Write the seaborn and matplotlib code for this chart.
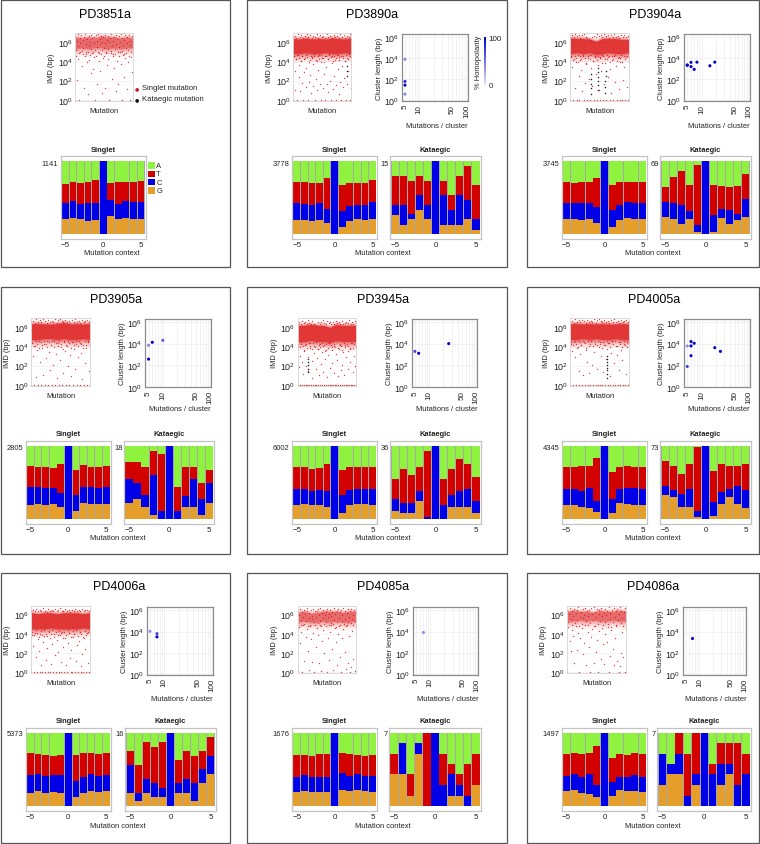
# Kataegis overview: rainfall, cluster size and mutation context for nine samples
import numpy as np
import matplotlib
matplotlib.use("Agg")
import matplotlib.pyplot as plt
import seaborn as sns
from matplotlib.colors import LinearSegmentedColormap, Normalize
from matplotlib.cm import ScalarMappable
from matplotlib.ticker import NullFormatter, NullLocator

# Step 1: data
samples = ["PD3851a", "PD3890a", "PD3904a", "PD3905a", "PD3945a", "PD4005a", "PD4006a", "PD4085a", "PD4086a"]
context = [-5, -4, -3, -2, -1, 0, 1, 2, 3, 4, 5]

singlet_counts = [1141, 3778, 3745, 2805, 6002, 4345, 5373, 1676, 1497]
kataegic_counts = [None, 15, 69, 18, 36, 73, 16, 7, 7]

# stacked bar tops in %: G, G+C, G+C+T (A fills up to 100)
s3851_g = [20, 22, 20, 18, 19, 0, 25, 20, 22, 20, 20]
s3851_c = [42, 46, 41, 42, 43, 100, 47, 41, 46, 44, 44]
s3851_t = [69, 72, 70, 72, 74, 100, 70, 72, 72, 72, 73]

s3890_g = [19, 19, 18, 19, 15, 0, 9, 18, 21, 19, 20]
s3890_c = [43, 41, 40, 43, 34, 100, 32, 38, 40, 40, 44]
s3890_t = [71, 72, 70, 70, 77, 100, 67, 70, 70, 70, 74]
k3890_g = [26, 13, 20, 33, 20, 0, 13, 13, 13, 20, 6]
k3890_c = [40, 40, 27, 54, 40, 100, 53, 33, 53, 47, 20]
k3890_t = [80, 80, 73, 80, 73, 100, 73, 53, 80, 94, 67]

s3904_g = [20, 20, 19, 21, 15, 0, 9, 19, 22, 21, 20]
s3904_c = [42, 43, 42, 43, 37, 100, 33, 40, 44, 43, 42]
s3904_t = [71, 70, 71, 71, 77, 100, 67, 71, 72, 72, 72]
k3904_g = [23, 21, 14, 20, 3, 0, 3, 22, 14, 19, 23]
k3904_c = [44, 43, 40, 32, 12, 100, 26, 35, 33, 28, 48]
k3904_t = [64, 78, 86, 67, 95, 100, 67, 66, 64, 66, 83]

s3905_g = [19, 20, 19, 20, 16, 0, 11, 22, 21, 20, 21]
s3905_c = [44, 44, 43, 43, 36, 100, 33, 44, 44, 42, 44]
s3905_t = [73, 72, 71, 70, 76, 100, 67, 74, 72, 72, 73]
k3905_g = [22, 28, 17, 6, 0, 0, 0, 17, 17, 6, 22]
k3905_c = [55, 50, 33, 61, 11, 100, 11, 31, 55, 28, 50]
k3905_t = [78, 78, 72, 94, 89, 100, 44, 72, 72, 50, 67]

s3945_g = [19, 21, 19, 19, 17, 0, 8, 19, 21, 20, 19]
s3945_c = [41, 41, 39, 40, 39, 100, 33, 40, 41, 41, 41]
s3945_t = [72, 71, 69, 70, 75, 100, 67, 71, 72, 72, 71]
k3945_g = [11, 8, 8, 25, 0, 0, 0, 17, 17, 17, 8]
k3945_c = [28, 22, 22, 38, 3, 100, 19, 33, 39, 41, 25]
k3945_t = [55, 69, 61, 72, 94, 100, 55, 69, 83, 75, 58]

s4005_g = [19, 19, 17, 15, 10, 0, 8, 22, 20, 19, 19]
s4005_c = [41, 41, 38, 43, 25, 100, 28, 41, 42, 42, 41]
s4005_t = [72, 72, 73, 73, 84, 100, 65, 72, 73, 72, 72]
k4005_g = [33, 30, 17, 16, 3, 0, 4, 20, 30, 20, 15]
k4005_c = [45, 40, 35, 41, 11, 100, 23, 37, 41, 45, 40]
k4005_t = [80, 73, 62, 76, 99, 100, 66, 76, 73, 73, 76]

s4006_g = [18, 20, 18, 19, 18, 0, 12, 18, 20, 19, 20]
s4006_c = [42, 43, 41, 42, 42, 100, 34, 39, 43, 41, 42]
s4006_t = [73, 71, 70, 69, 70, 100, 70, 72, 73, 71, 73]
k4006_g = [18, 6, 18, 12, 12, 0, 18, 18, 6, 31, 44]
k4006_c = [56, 18, 37, 31, 25, 100, 31, 37, 31, 50, 69]
k4006_t = [75, 56, 88, 81, 88, 100, 63, 75, 69, 75, 94]

s4085_g = [19, 20, 19, 19, 19, 0, 22, 20, 21, 20, 19]
s4085_c = [40, 42, 40, 39, 39, 100, 45, 41, 43, 41, 41]
s4085_t = [70, 70, 69, 71, 71, 100, 72, 71, 70, 69, 70]
k4085_g = [43, 43, 14, 71, 0, 0, 0, 14, 14, 0, 29]
k4085_c = [43, 86, 14, 86, 0, 100, 29, 43, 29, 14, 29]
k4085_t = [71, 86, 43, 86, 100, 100, 71, 57, 43, 57, 71]

s4086_g = [20, 21, 17, 16, 12, 0, 14, 21, 20, 20, 19]
s4086_c = [41, 43, 40, 43, 29, 100, 33, 40, 40, 42, 40]
s4086_t = [71, 72, 71, 73, 82, 100, 66, 71, 70, 72, 71]
k4086_g = [29, 43, 43, 0, 29, 0, 0, 29, 43, 0, 0]
k4086_c = [71, 57, 71, 14, 43, 100, 43, 57, 57, 29, 43]
k4086_t = [71, 57, 100, 71, 100, 100, 57, 86, 86, 86, 71]

# clusters: mutations per cluster, log10 length, % homopolarity
c3890_n = [5, 5, 5, 5]
c3890_len = [3.9, 1.8, 1.45, 0.6]
c3890_hom = [40, 80, 100, 40]
c3904_n = [5, 5, 6, 6, 7, 8, 15, 19]
c3904_len = [3.34, 3.34, 3.6, 3.2, 2.94, 3.62, 3.28, 3.62]
c3904_hom = [100, 100, 100, 100, 100, 100, 100, 100]
c3905_n = [5, 5, 6, 10]
c3905_len = [3.84, 2.56, 4.12, 4.3]
c3905_hom = [40, 100, 100, 60]
c3945_n = [5, 6, 26]
c3945_len = [3.28, 3.1, 4.0]
c3945_hom = [70, 100, 100]
c4005_n = [5, 5, 6, 6, 6, 7, 19, 25]
c4005_len = [3.78, 1.88, 4.19, 3.78, 2.88, 4.03, 3.62, 3.28]
c4005_hom = [35, 70, 100, 100, 100, 100, 100, 100]
c4006_n = [5, 7, 7]
c4006_len = [4.03, 3.8, 3.5]
c4006_hom = [35, 70, 100]
c4085_n = [7]
c4085_len = [3.94]
c4085_hom = [35]
c4086_n = [7]
c4086_len = [3.4]
c4086_hom = [100]

# rainfall: envelope of the dense band at ten places along the genome (log10 IMD)
b3851_hi = [6.5, 6.4, 6.5, 6.4, 6.6, 6.5, 6.5, 6.4, 6.5, 6.4]
b3851_lo = [5.3, 5.4, 5.3, 5.4, 5.4, 5.3, 5.4, 5.3, 5.4, 5.4]
b3890_hi = [6.35, 6.3, 6.4, 6.3, 6.35, 6.3, 6.4, 6.35, 6.3, 6.4]
b3890_lo = [4.8, 4.8, 4.9, 4.8, 4.8, 4.9, 4.8, 4.8, 4.9, 4.8]
b3904_hi = [6.4, 6.35, 6.35, 6.25, 6.05, 6.35, 6.35, 6.35, 6.25, 6.25]
b3904_lo = [4.8, 4.9, 4.8, 4.9, 4.7, 4.8, 4.9, 4.8, 4.8, 4.9]
b3905_hi = [6.3, 6.35, 6.3, 6.3, 6.35, 6.45, 6.3, 6.35, 6.3, 6.35]
b3905_lo = [4.7, 4.7, 4.8, 4.8, 4.7, 4.8, 4.7, 4.7, 4.8, 4.7]
b3945_hi = [6.15, 6.15, 6.25, 6.15, 6.15, 5.95, 6.25, 6.15, 6.15, 6.15]
b3945_lo = [4.5, 4.5, 4.6, 4.5, 4.5, 4.4, 4.6, 4.5, 4.5, 4.5]
b4005_hi = [6.3, 6.35, 6.3, 6.35, 6.3, 6.35, 6.3, 6.3, 6.35, 6.3]
b4005_lo = [4.7, 4.7, 4.8, 4.7, 4.8, 4.7, 4.7, 4.8, 4.7, 4.7]
b4006_hi = [6.15, 6.05, 6.15, 6.15, 6.05, 6.15, 6.15, 6.15, 6.05, 6.15]
b4006_lo = [4.5, 4.5, 4.5, 4.6, 4.5, 4.5, 4.5, 4.5, 4.6, 4.5]
b4085_hi = [6.2, 6.3, 6.1, 6.2, 6.3, 6.3, 6.3, 6.2, 6.3, 6.3]
b4085_lo = [5.2, 5.3, 5.2, 5.2, 5.3, 5.2, 5.3, 5.2, 5.2, 5.3]
b4086_hi = [6.3, 6.4, 6.3, 6.3, 6.2, 6.4, 6.3, 6.3, 6.4, 6.3]
b4086_lo = [5.3, 5.3, 5.4, 5.3, 5.4, 5.3, 5.3, 5.4, 5.3, 5.3]

# rainfall: loose points below the band, in genome order (log10 IMD)
r3851 = [0.0, 4.6, 2.1, 4.2, 0.0, 5.0, 3.5, 4.8, 1.2, 4.5, 5.0, 3.9, 0.6, 4.1, 4.7, 2.8,
         4.9, 3.2, 4.4, 0.0, 4.6, 1.7, 5.0, 4.0, 3.0, 4.8, 0.7, 4.3, 4.6, 1.2, 5.0, 3.6,
         4.2, 0.0, 4.9, 2.2, 4.5, 3.3, 4.8, 0.9, 4.0, 1.6, 4.6, 5.0, 3.7, 0.0, 4.7, 2.4, 4.3,
         4.9, 1.1, 3.9, 4.6, 0.0, 4.4, 2.9, 4.8]
r3890 = [0.0, 4.5, 1.0, 3.0, 4.2, 0.0, 4.7, 2.4, 3.6, 0.9, 4.0, 1.8, 4.6, 0.0, 2.9, 4.3, 1.3,
         3.3, 4.8, 0.0, 1.9, 4.1, 2.6, 0.7, 4.4, 3.7, 1.4, 4.6, 0.0, 2.2, 4.0, 1.0, 3.1,
         4.7, 1.7, 0.0, 3.9, 4.3, 1.2, 2.7, 4.6, 0.0, 3.4, 1.6, 4.2, 0.8, 4.8, 2.0, 0.0, 3.8,
         4.5, 1.1, 2.5, 4.1, 0.0, 1.5, 4.7, 3.2, 0.6, 4.4, 1.9, 0.0, 3.5, 4.6, 1.3, 2.3, 4.0,
         0.0, 4.3, 1.7, 3.0, 4.8, 0.0, 1.2, 3.7]
r3904 = [0.0, 4.6, 3.4, 0.0, 4.2, 1.2, 3.9, 0.0, 4.7, 2.5, 0.0, 4.1, 3.1, 0.9, 4.5, 0.0,
         1.8, 3.7, 0.0, 4.3, 2.2, 4.7, 0.0, 3.3, 1.4, 4.0, 0.0, 4.6, 2.7, 0.0, 3.6, 1.0,
         4.4, 0.0, 3.0, 4.7, 0.0, 1.6, 3.8, 0.0, 4.2, 2.4, 4.6, 0.0, 3.2, 0.7, 4.1, 0.0,
         4.5, 1.9, 3.5, 0.0, 4.3, 1.1, 0.0, 3.9, 4.7, 0.0, 2.1, 3.4, 0.0, 4.4, 1.3, 0.0, 4.0]
r3905 = [0.0, 4.3, 3.0, 0.0, 4.0, 0.8, 3.6, 0.0, 4.5, 2.4, 0.0, 3.8, 1.0, 4.2, 0.0, 2.8,
         4.6, 0.0, 3.4, 1.5, 4.1, 0.0, 2.1, 4.5, 0.0, 3.2, 0.7, 4.3, 0.0, 2.6, 3.9,
         0.0, 1.2, 4.6, 3.5, 0.0, 4.0, 2.0, 0.0, 3.1, 0.9, 4.4, 0.0, 3.7, 1.7, 4.2, 0.0,
         2.9, 4.5, 0.0, 3.3, 0.6, 4.1, 0.0, 2.3, 3.8, 0.0, 4.6, 1.4, 0.0]
r3945 = [0.0, 3.9, 1.9, 0.0, 3.0, 4.2, 0.0, 2.4, 1.1, 0.0, 3.5, 4.1, 0.0, 2.0, 0.0, 2.9, 1.4,
         0.0, 3.8, 4.3, 0.0, 2.5, 0.7, 0.0, 3.3, 4.0, 0.0, 1.6, 0.0, 2.8, 3.7, 0.0, 1.0, 4.2, 0.0,
         2.2, 3.4, 0.0, 1.3, 4.1, 0.0, 2.7, 0.0, 3.6, 0.8, 0.0, 3.1, 4.3, 0.0, 1.8, 0.0, 2.3,
         3.9, 0.0, 1.2, 4.0, 0.0, 3.2, 0.0, 2.6, 0.9, 0.0, 3.7, 4.2, 0.0, 1.5, 0.0, 2.1, 3.4, 0.0,
         1.0, 4.1, 0.0, 2.9, 0.0, 3.5, 1.7, 0.0, 2.4, 3.8, 0.0, 4.3, 0.0, 1.3, 3.0, 0.0, 2.0, 0.0]
r4005 = [0.0, 4.2, 3.5, 0.0, 4.4, 2.9, 0.0, 3.8, 4.5, 1.4, 0.0, 3.2, 4.1, 0.0, 1.0, 4.4,
         0.0, 3.6, 2.4, 0.0, 4.0, 1.2, 0.0, 4.5, 2.1, 0.0, 3.4, 4.2, 0.0, 1.6, 0.0, 3.9, 4.4,
         0.0, 3.0, 0.0, 1.3, 4.1, 0.0, 2.7, 3.7, 0.0, 4.3, 0.9, 0.0, 3.3, 4.5, 0.0, 2.3, 0.0,
         4.0, 3.1, 0.0, 1.5, 4.4, 0.0, 3.6, 2.6, 0.0, 4.2, 0.0, 1.1, 3.9, 0.0, 4.5]
r4006 = [0.0, 3.9, 2.7, 0.0, 4.1, 1.6, 0.0, 3.4, 2.2, 0.0, 4.0, 0.7, 0.0, 3.1, 3.8, 0.0,
         1.3, 2.5, 0.0, 4.2, 3.6, 0.0, 0.9, 2.9, 0.0, 4.0, 1.8, 0.0, 3.3, 2.1, 0.0, 3.9, 1.1,
         0.0, 4.2, 2.6, 0.0, 3.5, 0.8, 0.0, 3.0, 4.1, 1.5, 0.0, 2.3, 0.0, 3.7, 4.0, 0.0, 1.2,
         2.8, 0.0, 3.2, 4.2, 0.6, 0.0, 1.9, 0.0, 3.6, 2.4, 0.0, 4.1, 1.0, 0.0, 3.4]
r4085 = [0.1, 4.7, 3.0, 4.2, 0.0, 4.9, 1.2, 3.7, 4.5, 2.2, 0.2, 4.8, 3.4, 1.1, 4.1, 0.0,
         2.6, 4.6, 3.9, 1.0, 4.9, 0.1, 3.2, 4.4, 2.0, 4.8, 0.0, 3.6, 1.3, 4.2, 4.9, 2.4,
         0.2, 4.6, 3.1, 0.8, 4.0, 4.8, 1.6, 0.0, 3.5, 4.5, 2.1, 0.3, 4.9, 1.0, 3.8, 0.0,
         0.5, 4.3, 1.4, 0.1, 4.7]
r4086 = [0.0, 4.7, 3.2, 2.2, 4.4, 3.8, 1.0, 4.8, 2.3, 4.1, 0.0, 3.5, 4.6, 1.9, 3.0,
         4.9, 0.8, 4.2, 2.6, 0.0, 3.7, 4.5, 1.0, 4.8, 2.1, 3.3, 0.0, 4.3, 1.4, 4.6,
         2.9, 0.9, 4.0, 3.1, 4.7, 0.0, 1.7, 4.4, 2.4, 0.8, 3.6, 4.8, 1.2, 0.0, 0.6,
         2.0, 4.2, 1.6, 0.0, 4.6]

# rainfall: points along the fuzzy edges and inside the band (log10 IMD)
e3851 = [6.6, 5.2, 6.1, 6.8, 5.6, 4.9, 6.4, 5.9, 6.7, 5.1, 6.2, 5.4, 6.5, 6.85, 4.8, 5.8, 6.3, 5.0, 6.6, 5.7,
         6.0, 6.75, 5.3, 6.45, 4.95, 5.9, 6.55, 5.2, 6.7, 6.1, 5.5, 6.8, 4.85, 6.3, 5.75, 6.6, 5.15, 6.0, 6.5, 5.4,
         6.75, 5.85, 4.9, 6.2, 6.65, 5.3, 5.95, 6.4, 5.05, 6.8, 5.6, 6.15, 4.75, 6.55, 5.25, 6.7, 5.8, 6.35, 5.0, 6.6,
         5.5, 6.05, 6.85, 5.1, 6.45, 5.7, 4.8, 6.25, 6.7, 5.35, 5.9, 6.5, 5.15, 6.75, 5.65, 6.1, 4.95, 6.6, 5.45, 6.3]
e3890 = [6.5, 4.5, 6.6, 4.2, 6.45, 4.65, 6.8, 4.35, 6.55, 4.0, 6.7, 4.55, 6.4, 4.25, 6.65, 4.7, 6.85, 4.4, 6.5, 3.95,
         6.75, 4.6, 6.45, 4.3, 6.6, 4.75, 6.55, 4.1, 6.8, 4.5, 6.4, 4.2, 6.7, 4.65, 6.5, 4.35, 6.6, 3.9, 6.45, 4.55,
         6.85, 4.25, 6.55, 4.7, 6.65, 4.45, 6.4, 4.05, 6.75, 4.6, 6.5, 4.3, 6.6, 4.7, 6.45, 4.15, 6.8, 4.5, 6.55, 4.35,
         6.7, 4.0, 6.4, 4.65, 6.6, 4.25, 6.5, 4.55, 6.85, 4.4]
e3904 = [6.55, 4.4, 6.7, 4.1, 6.5, 4.6, 6.85, 4.3, 6.6, 3.9, 6.75, 4.5, 6.45, 4.2, 6.7, 4.65, 6.8, 4.35, 6.55, 3.85,
         6.4, 4.55, 6.3, 4.25, 6.25, 4.7, 6.5, 4.0, 6.65, 4.45, 6.55, 4.15, 6.8, 4.6, 6.6, 4.3, 6.7, 3.8, 6.5, 4.5,
         6.85, 4.2, 6.6, 4.65, 6.75, 4.4, 6.45, 3.95, 6.7, 4.55, 6.55, 4.25, 6.8, 4.7, 6.5, 4.05, 6.65, 4.45, 6.45, 4.3,
         6.75, 3.9, 6.5, 4.6, 6.7, 4.2, 6.55, 4.5, 6.6, 4.35]
e3905 = [6.5, 4.3, 6.65, 4.05, 6.45, 4.5, 6.85, 4.2, 6.55, 3.8, 6.7, 4.4, 6.5, 4.1, 6.8, 4.55, 6.6, 4.25, 6.45, 3.9,
         6.75, 4.45, 6.5, 4.15, 6.65, 4.6, 6.55, 3.95, 6.8, 4.35, 6.45, 4.05, 6.7, 4.5, 6.85, 4.2, 6.6, 3.75, 6.5, 4.4,
         6.75, 4.1, 6.55, 4.55, 6.65, 4.3, 6.45, 3.85, 6.7, 4.45, 6.5, 4.15, 6.8, 4.6, 6.55, 4.0, 6.65, 4.35, 6.45, 4.2,
         6.75, 3.8, 6.5, 4.5, 6.6, 4.1, 6.7, 4.4, 6.55, 4.25]
e3945 = [6.35, 4.2, 6.5, 3.9, 6.3, 4.4, 6.65, 4.05, 6.4, 3.6, 6.55, 4.25, 6.35, 3.85, 6.7, 4.35, 6.45, 4.0, 6.3, 3.7,
         6.6, 4.3, 6.35, 3.95, 6.2, 4.4, 6.15, 3.75, 6.5, 4.15, 6.35, 3.9, 6.55, 4.3, 6.7, 4.05, 6.45, 3.55, 6.35, 4.2,
         6.6, 3.85, 6.4, 4.35, 6.5, 4.1, 6.3, 3.65, 6.55, 4.25, 6.35, 3.95, 6.65, 4.4, 6.4, 3.8, 6.5, 4.15, 6.3, 4.0,
         6.6, 3.6, 6.35, 4.3, 6.45, 3.9, 6.55, 4.2, 6.4, 4.05, 6.7, 3.7, 6.35, 4.35, 6.5, 3.85, 6.3, 4.25, 6.6, 4.0]
e4005 = [6.5, 4.4, 6.65, 4.1, 6.45, 4.55, 6.8, 4.25, 6.55, 3.9, 6.7, 4.45, 6.5, 4.15, 6.75, 4.6, 6.6, 4.3, 6.45, 3.85,
         6.7, 4.5, 6.5, 4.2, 6.65, 4.6, 6.55, 4.0, 6.8, 4.4, 6.45, 4.1, 6.7, 4.55, 6.85, 4.25, 6.6, 3.8, 6.5, 4.45,
         6.75, 4.15, 6.55, 4.6, 6.65, 4.35, 6.45, 3.95, 6.7, 4.5, 6.5, 4.2, 6.8, 4.55, 6.55, 4.05, 6.65, 4.4, 6.45, 4.25,
         6.75, 3.9, 6.5, 4.5, 6.6, 4.15, 6.7, 4.45, 6.55, 4.3]
e4006 = [6.35, 4.2, 6.45, 3.9, 6.3, 4.4, 6.6, 4.05, 6.4, 3.65, 6.5, 4.25, 6.3, 3.85, 6.65, 4.35, 6.4, 4.0, 6.25, 3.75,
         6.55, 4.3, 6.35, 3.95, 6.45, 4.4, 6.3, 3.7, 6.6, 4.15, 6.35, 3.9, 6.5, 4.3, 6.65, 4.05, 6.4, 3.6, 6.3, 4.2,
         6.55, 3.85, 6.4, 4.35, 6.45, 4.1, 6.25, 3.7, 6.5, 4.25, 6.35, 3.95, 6.6, 4.4, 6.4, 3.8, 6.45, 4.15, 6.3, 4.0,
         6.55, 3.65, 6.35, 4.3, 6.45, 3.9, 6.5, 4.2, 6.4, 4.05]
e4085 = [6.4, 5.1, 5.9, 6.6, 5.4, 4.9, 6.2, 5.7, 6.5, 5.0, 6.0, 5.3, 6.35, 6.7, 4.8, 5.6, 6.15, 4.95, 6.45, 5.5,
         5.85, 6.6, 5.2, 6.3, 4.85, 5.75, 6.4, 5.1, 6.55, 5.95, 5.35, 6.65, 4.75, 6.15, 5.65, 6.45, 5.05, 5.9, 6.35, 5.25,
         6.6, 5.7, 4.9, 6.05, 6.5, 5.15, 5.8, 6.25, 5.0, 6.65, 5.45, 6.0, 4.7, 6.4, 5.2, 6.55, 5.65, 6.2, 4.95, 6.45,
         5.35, 5.9, 6.7, 5.05, 6.3, 5.55, 4.8, 6.1, 6.55, 5.25, 5.75, 6.35, 5.1, 6.6, 5.5, 5.95, 4.85, 6.45, 5.3, 6.2]
e4086 = [6.5, 5.2, 6.0, 6.7, 5.5, 4.9, 6.3, 5.8, 6.6, 5.1, 6.1, 5.4, 6.45, 6.8, 4.8, 5.7, 6.25, 5.0, 6.55, 5.6,
         5.95, 6.7, 5.3, 6.4, 4.85, 5.85, 6.5, 5.15, 6.65, 6.05, 5.45, 6.75, 4.75, 6.25, 5.75, 6.55, 5.05, 6.0, 6.45, 5.35,
         6.7, 5.8, 4.9, 6.15, 6.6, 5.25, 5.9, 6.35, 5.0, 6.75, 5.55, 6.1, 4.7, 6.5, 5.2, 6.65, 5.75, 6.3, 4.95, 6.55,
         5.45, 6.0, 6.8, 5.1, 6.4, 5.65, 4.8, 6.2, 6.65, 5.3]

# rainfall: kataegic points, position in % along the genome and log10 IMD
kat3890_x = [92, 92, 92]
kat3890_y = [2.5, 3.0, 3.5]
kat3904_x = [35, 35, 36, 36, 36, 47, 47, 47, 48, 48, 48, 60, 60, 60, 61, 61]
kat3904_y = [0.6, 1.2, 1.7, 2.2, 2.7, 1.0, 1.5, 2.0, 2.4, 2.9, 3.3, 0.7, 1.3, 2.0, 2.5, 3.0]
kat3945_x = [17, 17, 17, 18, 18]
kat3945_y = [1.3, 1.7, 2.1, 2.4, 2.7]
kat4005_x = [62, 62, 62, 62, 62, 62, 62, 62]
kat4005_y = [0.7, 1.1, 1.5, 1.8, 2.1, 2.4, 2.7, 3.0]

nt_labels = ["A", "T", "C", "G"]
nt_colors = ["#8ff23e", "#d30000", "#0000e8", "#e69e2a"]

singlet_g = [s3851_g, s3890_g, s3904_g, s3905_g, s3945_g, s4005_g, s4006_g, s4085_g, s4086_g]
singlet_c = [s3851_c, s3890_c, s3904_c, s3905_c, s3945_c, s4005_c, s4006_c, s4085_c, s4086_c]
singlet_t = [s3851_t, s3890_t, s3904_t, s3905_t, s3945_t, s4005_t, s4006_t, s4085_t, s4086_t]
kat_g = [None, k3890_g, k3904_g, k3905_g, k3945_g, k4005_g, k4006_g, k4085_g, k4086_g]
kat_c = [None, k3890_c, k3904_c, k3905_c, k3945_c, k4005_c, k4006_c, k4085_c, k4086_c]
kat_t = [None, k3890_t, k3904_t, k3905_t, k3945_t, k4005_t, k4006_t, k4085_t, k4086_t]
cl_n = [None, c3890_n, c3904_n, c3905_n, c3945_n, c4005_n, c4006_n, c4085_n, c4086_n]
cl_len = [None, c3890_len, c3904_len, c3905_len, c3945_len, c4005_len, c4006_len, c4085_len, c4086_len]
cl_hom = [None, c3890_hom, c3904_hom, c3905_hom, c3945_hom, c4005_hom, c4006_hom, c4085_hom, c4086_hom]
band_hi = [b3851_hi, b3890_hi, b3904_hi, b3905_hi, b3945_hi, b4005_hi, b4006_hi, b4085_hi, b4086_hi]
band_lo = [b3851_lo, b3890_lo, b3904_lo, b3905_lo, b3945_lo, b4005_lo, b4006_lo, b4085_lo, b4086_lo]
rain_pts = [r3851, r3890, r3904, r3905, r3945, r4005, r4006, r4085, r4086]
edge_pts = [e3851, e3890, e3904, e3905, e3945, e4005, e4006, e4085, e4086]
kat_pts = [None, (kat3890_x, kat3890_y), (kat3904_x, kat3904_y), None, (kat3945_x, kat3945_y),
           (kat4005_x, kat4005_y), None, None, None]

# Step 2: layout in pixels of the 760x845 picture
W, H = 760, 845
title_x = [105, 372, 655, 116, 383, 654, 119, 383, 653]
rain_x = [(75.3, 133.3), (293, 351.3), (570.3, 628.7), (31.3, 89.7), (297.7, 355.7), (570.3, 628.7),
          (31.3, 89.7), (297.7, 355.7), (567.3, 625.7)]
clus_x = [None, (401.7, 467.7), (684, 750), (145.3, 211.3), (411.7, 477.3), (684, 750),
          (146.7, 213.3), (412.7, 478.3), (682.7, 745.7)]
sing_x = [(60.7, 145.7), (292, 377.3), (561.7, 647.3), (25.7, 111), (292, 377.3), (561.7, 647.3),
          (25.7, 111), (292, 377.3), (561.7, 647.3)]
kata_x = [None, (390.3, 481), (660.3, 750.7), (124, 214.3), (390.3, 481), (660.3, 750.7),
          (125.3, 215.7), (389, 481), (657.3, 751.3)]
context_x = [112, 383, 653, 118, 383, 653, 118, 383, 653]
boxes_x = [(0.5, 229.5), (246.5, 507), (527, 759)]
boxes_y = [(0.5, 268), (288, 554.5), (574, 844)]
row_y = [dict(title=15, rain=(34.3, 101.7), clus=(35, 102), rain_lab=111.7, clus_lab=126.7,
              bars=(157.3, 240), bar_title=150, count=164, ctx=253.3),
         dict(title=300, rain=(319.3, 386.7), clus=(320, 388.3), rain_lab=396.7, clus_lab=409.3,
              bars=(442.3, 525), bar_title=435, count=449, ctx=538.3),
         dict(title=586.7, rain=(606.7, 674), clus=(608.3, 675.7), rain_lab=683.3, clus_lab=700,
              bars=(729, 811.7), bar_title=721.7, count=735, ctx=826.7)]

LABEL = 5.4
TICK = 6.4
sns.set_theme(style="white")
plt.rcParams["font.family"] = ["Liberation Sans", "DejaVu Sans"]
plt.rcParams["mathtext.default"] = "regular"
plt.rcParams["axes.unicode_minus"] = True

fig = plt.figure(figsize=(W / 100, H / 100), dpi=100, facecolor="white")
homo_cmap = LinearSegmentedColormap.from_list("homo", ["#e4e4f6", "#0000c8"])


def px_axes(xs, ys):
    return fig.add_axes([xs[0] / W, 1 - ys[1] / H, (xs[1] - xs[0]) / W, (ys[1] - ys[0]) / H])


def txt(x, y, s, **kw):
    kw.setdefault("fontsize", LABEL)
    kw.setdefault("color", "#222222")
    kw.setdefault("ha", "center")
    kw.setdefault("va", "center")
    fig.text(x / W, 1 - y / H, s, **kw)


def draw_rain(ax, i):
    sparse = samples[i] in ("PD3851a", "PD4085a", "PD4086a")
    ax.set_yscale("log")
    xb = np.linspace(0, 100, len(band_hi[i]))
    hi = np.array(band_hi[i])
    lo = np.array(band_lo[i])
    # soft edge round the dense band, fading out below it
    for up, down, a in [(0.35, 0.85, 0.1), (0.25, 0.55, 0.15), (0.15, 0.35, 0.22), (0.07, 0.15, 0.3), (0, 0, 0.6)]:
        ax.fill_between(xb, 10 ** (lo - down), 10 ** (hi + up), color="#dc1010", lw=0,
                        alpha=a * (0.6 if sparse else 1))
    for vals in (rain_pts[i], edge_pts[i]):
        sns.scatterplot(x=np.linspace(0, 100, len(vals)), y=10 ** np.array(vals), color="#d81414", s=1.0,
                        linewidth=0, alpha=0.8, ax=ax, legend=False)
    if kat_pts[i] is not None:
        sns.scatterplot(x=kat_pts[i][0], y=10 ** np.array(kat_pts[i][1]), color="#222222", s=1.2,
                        linewidth=0, ax=ax, legend=False)
    ax.set_xlim(0, 100)
    ax.set_ylim(10 ** -0.08, 10 ** 6.9)
    ax.set_yticks([1e0, 1e2, 1e4, 1e6])
    ax.minorticks_off()
    ax.set_xticks([])
    ax.grid(axis="y", color="#eeeeee", lw=0.4)
    ax.set_axisbelow(True)
    ax.tick_params(axis="y", length=0, pad=1.5, labelsize=TICK, labelcolor="#222222")
    for sp in ax.spines.values():
        sp.set_color("#d4d4d4")
        sp.set_linewidth(0.6)


def draw_cluster(ax, i):
    sns.scatterplot(x=cl_n[i], y=10 ** np.array(cl_len[i]), hue=cl_hom[i], hue_norm=(0, 100), palette=homo_cmap,
                    s=5, linewidth=0, ax=ax, legend=False)
    ax.set_xscale("log")
    ax.set_yscale("log")
    ax.set_xlim(4.27, 105)
    ax.set_ylim(10 ** -0.05, 10 ** 6.28)
    ax.set_xticks([5, 10, 50, 100])
    ax.set_xticklabels(["5", "10", "50", "100"], rotation=90)
    ax.set_xticks([6, 7, 8, 9, 20, 30, 40, 60, 70, 80, 90], minor=True)
    ax.xaxis.set_minor_formatter(NullFormatter())
    ax.set_yticks([1e0, 1e2, 1e4, 1e6])
    ax.yaxis.set_minor_locator(NullLocator())
    ax.grid(which="both", color="#e8e8ee", lw=0.4)
    ax.set_axisbelow(True)
    ax.tick_params(which="both", length=0, pad=2, labelsize=TICK, labelcolor="#222222")
    ax.tick_params(axis="x", labelsize=5.8)
    for sp in ax.spines.values():
        sp.set_color("#8c8c8c")
        sp.set_linewidth(0.9)


def draw_bars(ax, g, c, t):
    # grey strip behind the bars shows through the gaps
    ax.axhspan(0, 100, xmin=0.012, xmax=0.988, color="#a8a8a8", lw=0, zorder=0)
    # later layers paint over earlier ones, so the stack goes from the top down
    layers = [[100] * len(context), t, c, g]
    for vals, col in zip(layers, nt_colors):
        sns.barplot(x=context, y=vals, color=col, saturation=1, width=0.9, native_scale=True, ax=ax,
                    errorbar=None, legend=False, linewidth=0)
    ax.set_xlim(-5.63, 5.63)
    ax.set_ylim(-6.9, 106.9)
    ax.set_xticks([-5, 0, 5])
    ax.set_xticklabels(["\u22125", "0", "5"])
    ax.set_yticks([])
    ax.set_xlabel("")
    ax.set_ylabel("")
    ax.tick_params(axis="x", length=0, pad=1.5, labelsize=5.8, labelcolor="#222222")
    for sp in ax.spines.values():
        sp.set_color("#c4c4c4")
        sp.set_linewidth(0.9)


# Step 3: the nine sample panels
for i, name in enumerate(samples):
    r = row_y[i // 3]
    txt(title_x[i], r["title"], name, fontsize=9, color="black")

    ax = px_axes(rain_x[i], r["rain"])
    draw_rain(ax, i)
    txt(np.mean(rain_x[i]), r["rain_lab"], "Mutation")
    txt(rain_x[i][0] - 23.5, np.mean(r["rain"]), "IMD (bp)", rotation=90)

    if clus_x[i] is not None:
        ax = px_axes(clus_x[i], r["clus"])
        draw_cluster(ax, i)
        txt(np.mean(clus_x[i]) + 2, r["clus_lab"], "Mutations / cluster")
        txt(clus_x[i][0] - 22.5, np.mean(r["clus"]), "Cluster length (bp)", rotation=90)

    ax = px_axes(sing_x[i], r["bars"])
    draw_bars(ax, singlet_g[i], singlet_c[i], singlet_t[i])
    txt(np.mean(sing_x[i]), r["bar_title"], "Singlet", fontweight="bold")
    txt(sing_x[i][0] - 2.5, r["count"], str(singlet_counts[i]), ha="right")

    if kata_x[i] is not None:
        ax = px_axes(kata_x[i], r["bars"])
        draw_bars(ax, kat_g[i], kat_c[i], kat_t[i])
        txt(np.mean(kata_x[i]), r["bar_title"], "Kataegic", fontweight="bold")
        txt(kata_x[i][0] - 1, r["count"], str(kataegic_counts[i]), ha="right")

    txt(context_x[i], r["ctx"], "Mutation context")

# Step 4: legends of the first panels
txt(137, 89, "\u25cf", color="#c8202a", fontsize=3.5, family="DejaVu Sans")
txt(142, 89, "Singlet mutation", ha="left", fontsize=5.5)
txt(137, 99.7, "\u25cf", color="#111111", fontsize=3.5, family="DejaVu Sans")
txt(142, 99.7, "Kataegic mutation", ha="left", fontsize=5.5)

for k, (lab, col) in enumerate(zip(nt_labels, nt_colors)):
    y0 = 163.3 + k * 8.3
    fig.add_artist(plt.Rectangle((148.3 / W, 1 - (y0 + 6.3) / H), 6.8 / W, 6.3 / H, color=col,
                                 transform=fig.transFigure, lw=0))
    txt(156.2, y0 + 3.2, lab, ha="left")

cax = px_axes((484, 486.3), (38.3, 86))
cb = fig.colorbar(ScalarMappable(Normalize(0, 100), homo_cmap), cax=cax, ticks=[0, 100])
cb.outline.set_visible(False)
cb.ax.tick_params(length=0, pad=1.5, labelsize=5.8, labelcolor="#222222")
txt(479, 62, "% Homopolarity", rotation=90)

# Step 5: boxes round the samples
for by in boxes_y:
    for bx in boxes_x:
        fig.add_artist(plt.Rectangle((bx[0] / W, 1 - by[1] / H), (bx[1] - bx[0]) / W, (by[1] - by[0]) / H,
                                     fill=False, edgecolor="#555555", lw=0.9, transform=fig.transFigure))

plt.savefig("out.png", dpi=100)
